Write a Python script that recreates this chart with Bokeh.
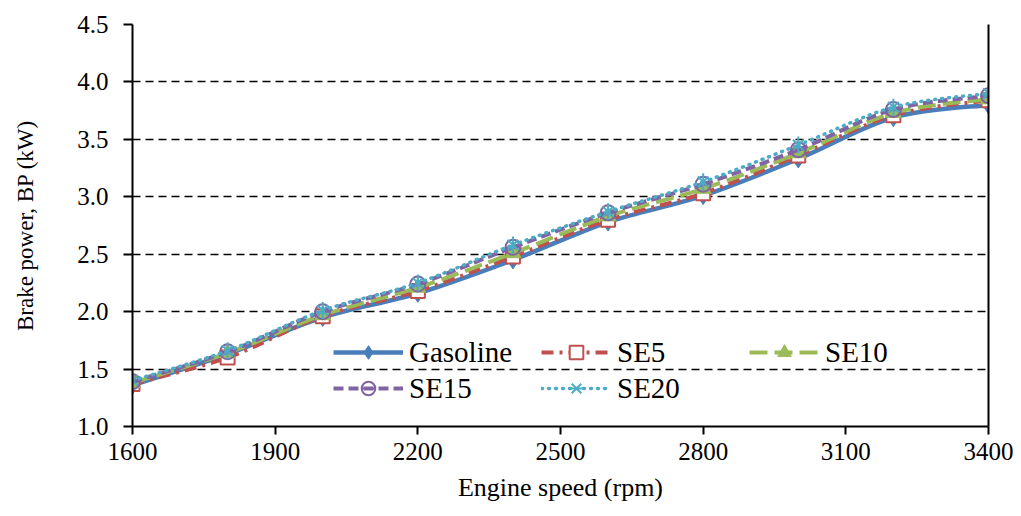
import numpy as np
from bokeh.plotting import figure
from bokeh.models import (Range1d, FixedTicker, LinearAxis, Legend, LegendItem,
                          ColumnDataSource, NumeralTickFormatter)
from bokeh.embed import file_html
from bokeh.resources import INLINE

# Brake power (kW) against engine speed (rpm) for each fuel blend
engine_speed = [1600, 1800, 2000, 2200, 2400, 2600, 2800, 3000, 3200, 3400]
gasoline = [1.36, 1.63, 1.95, 2.16, 2.45, 2.78, 3.01, 3.33, 3.69, 3.80]
se5 = [1.37, 1.60, 1.96, 2.18, 2.48, 2.80, 3.03, 3.36, 3.71, 3.84]
se10 = [1.38, 1.64, 1.97, 2.21, 2.51, 2.83, 3.07, 3.38, 3.73, 3.85]
se15 = [1.39, 1.65, 2.00, 2.24, 2.56, 2.86, 3.11, 3.41, 3.76, 3.88]
se20 = [1.40, 1.66, 2.01, 2.25, 2.58, 2.87, 3.13, 3.45, 3.78, 3.90]

series_names = ["Gasoline", "SE5", "SE10", "SE15", "SE20"]
x_ticks = [1600, 1900, 2200, 2500, 2800, 3100, 3400]
y_ticks = [1.0, 1.5, 2.0, 2.5, 3.0, 3.5, 4.0, 4.5]

FONT = "Liberation Serif"


def smooth_segments(xs, ys):
    """Cubic Bezier segments through the points (Catmull-Rom style tangents)."""
    x = np.asarray(xs, dtype=float)
    y = np.asarray(ys, dtype=float)
    n = len(x) - 1
    xp = np.concatenate([[x[0]], x, [x[-1]]])
    yp = np.concatenate([[y[0]], y, [y[-1]]])
    return ColumnDataSource(dict(
        x0=x[:-1], y0=y[:-1], x1=x[1:], y1=y[1:],
        cx0=x[:-1] + (xp[2:n + 2] - xp[0:n]) / 6.0,
        cy0=y[:-1] + (yp[2:n + 2] - yp[0:n]) / 6.0,
        cx1=x[1:] - (xp[3:n + 3] - xp[1:n + 1]) / 6.0,
        cy1=y[1:] - (yp[3:n + 3] - yp[1:n + 1]) / 6.0,
    ))


p = figure(width=1021, height=516, output_backend="svg", toolbar_location=None,
           x_range=Range1d(1600, 3400), y_range=Range1d(1.0, 4.5),
           min_border_left=132, min_border_right=33,
           min_border_top=24, min_border_bottom=90)
p.outline_line_color = None
p.background_fill_color = "white"
p.border_fill_color = "white"

# axes
p.xaxis.ticker = FixedTicker(ticks=x_ticks)
p.yaxis.ticker = FixedTicker(ticks=y_ticks)
p.yaxis.formatter = NumeralTickFormatter(format="0.0")
p.xaxis.axis_label = "Engine speed (rpm)"
p.yaxis.axis_label = "Brake power, BP (kW)"
for ax in (p.xaxis, p.yaxis):
    ax.axis_line_color = "black"
    ax.axis_line_width = 2
    ax.major_tick_line_color = "black"
    ax.major_tick_line_width = 2
    ax.major_tick_in = 0
    ax.minor_tick_line_color = None
    ax.major_label_text_font = FONT
    ax.major_label_text_font_size = "25px"
    ax.major_label_text_color = "black"
    ax.axis_label_text_font = FONT
    ax.axis_label_text_font_style = "normal"
    ax.axis_label_text_color = "black"
p.xaxis.major_tick_out = 8
p.yaxis.major_tick_out = 9
p.xaxis.major_label_standoff = 8
p.yaxis.major_label_standoff = 15
p.xaxis.axis_label_text_font_size = "26px"
p.yaxis.axis_label_text_font_size = "23px"
p.xaxis.axis_label_standoff = 10
p.yaxis.axis_label_standoff = 36

right_axis = LinearAxis(ticker=FixedTicker(ticks=[]), major_label_text_font_size="0px",
                        axis_line_color="black", axis_line_width=2,
                        major_tick_line_color=None, minor_tick_line_color=None)
p.add_layout(right_axis, "right")

# gridlines
p.xgrid.grid_line_color = None
p.ygrid.ticker = FixedTicker(ticks=y_ticks[1:-1])
p.ygrid.grid_line_color = "black"
p.ygrid.grid_line_width = 1.6
p.ygrid.grid_line_dash = "8 5"

styles = [
    dict(color="#4A7EBB", width=4.5, dash="solid", cap="butt"),
    dict(color="#C0504D", width=4.0, dash="12 6 3 6", cap="butt"),
    dict(color="#9BBB59", width=4.0, dash="18 7", cap="butt"),
    dict(color="#8064A2", width=4.0, dash="10 5", cap="butt"),
    dict(color="#4BACC6", width=3.5, dash="1 6", cap="round"),
]
values = [gasoline, se5, se10, se15, se20]

items = []
for name, ys, st in zip(series_names, values, styles):
    src = smooth_segments(engine_speed, ys)
    curve = p.bezier(x0="x0", y0="y0", x1="x1", y1="y1", cx0="cx0", cy0="cy0",
                     cx1="cx1", cy1="cy1", source=src, line_color=st["color"],
                     line_width=st["width"], line_dash=st["dash"], line_cap=st["cap"])
    pts = ColumnDataSource(dict(x=engine_speed, y=ys))
    rends = [curve]
    c = st["color"]
    if name == "Gasoline":
        rends.append(p.scatter("x", "y", source=pts, marker="diamond", size=18,
                               fill_color=c, line_color=c, line_width=1))
    elif name == "SE5":
        rends.append(p.scatter("x", "y", source=pts, marker="square", size=14,
                               fill_color="white", line_color=c, line_width=2))
    elif name == "SE10":
        rends.append(p.scatter("x", "y", source=pts, marker="triangle", size=16,
                               fill_color=c, line_color=c, line_width=1))
    elif name == "SE15":
        rends.append(p.scatter("x", "y", source=pts, marker="circle", size=15,
                               fill_color="white", fill_alpha=0.0, line_color=c, line_width=2))
        rends.append(p.scatter("x", "y", source=pts, marker="dash", size=15,
                               line_color=c, line_width=2))
    else:
        rends.append(p.scatter("x", "y", source=pts, marker="x", size=15,
                               line_color=c, line_width=2))
        rends.append(p.scatter("x", "y", source=pts, marker="dash", size=17, angle=np.pi / 2,
                               line_color=c, line_width=2))
    items.append(LegendItem(label=name, renderers=rends))

legend = Legend(items=items, location=(201, 21), orientation="horizontal", ncols=3,
                glyph_width=70, glyph_height=34, label_height=30, label_width=130,
                label_standoff=6, spacing=2, padding=0, margin=0,
                label_text_font=FONT, label_text_font_size="29px",
                label_text_color="black", background_fill_alpha=0,
                border_line_color=None)
p.add_layout(legend, "center")

open("out.html", "w").write(file_html(p, INLINE))
